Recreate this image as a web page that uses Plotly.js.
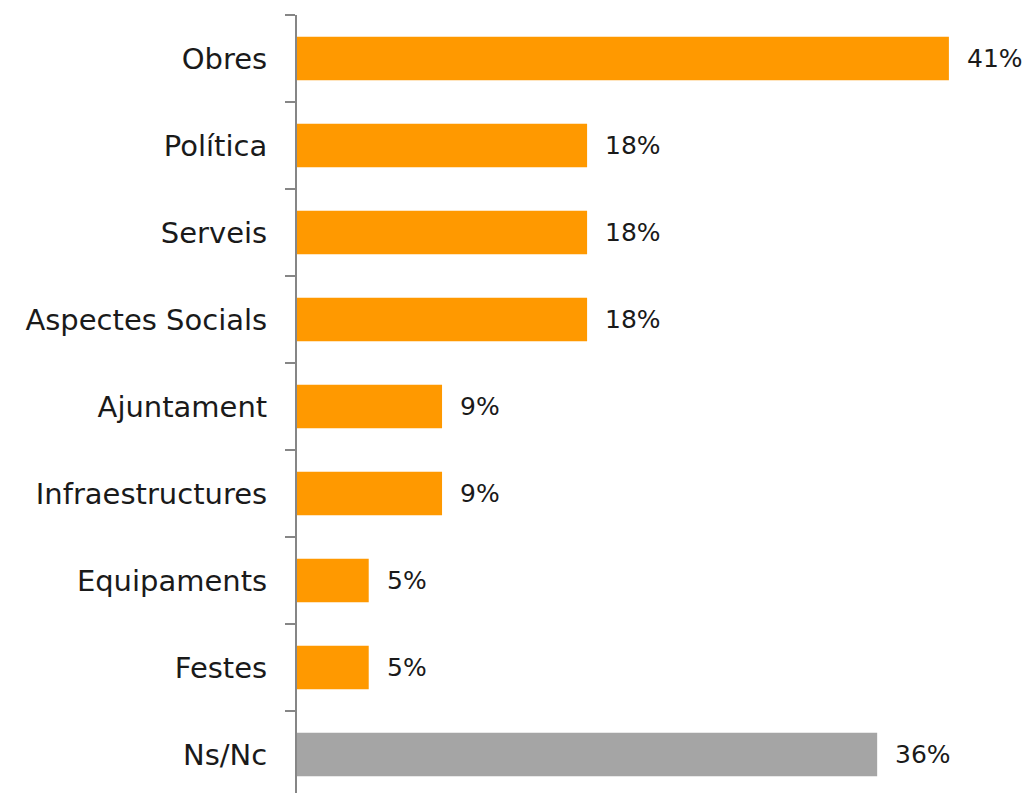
<!DOCTYPE html>
<html>
<head>
<meta charset="utf-8">
<script src="https://cdn.plot.ly/plotly-3.0.1.min.js"></script>
<style>html,body{margin:0;padding:0;overflow:hidden;background:#fff;}</style>
</head>
<body>
<div id="chart" style="width:1027px;height:798px;"></div>
<script>
const categories = ["Obres", "Política", "Serveis", "Aspectes Socials", "Ajuntament", "Infraestructures", "Equipaments", "Festes", "Ns/Nc"];
const values = [40.9, 18.2, 18.2, 18.2, 9.1, 9.1, 4.5, 4.5, 36.4];
const valueLabels = ["41%", "18%", "18%", "18%", "9%", "9%", "5%", "5%", "36%"];
const barColors = ["#FF9900", "#FF9900", "#FF9900", "#FF9900", "#FF9900", "#FF9900", "#FF9900", "#FF9900", "#A5A5A5"];

const fontFamily = "DejaVu Sans, sans-serif";

const trace = {
  type: "bar",
  orientation: "h",
  y: categories,
  x: values,
  marker: { color: barColors },
  hoverinfo: "none"
};

const annotations = categories.map((c, i) => ({
  x: values[i], y: c, xref: "x", yref: "y",
  text: valueLabels[i], showarrow: false,
  xanchor: "left", yanchor: "middle", xshift: 16,
  font: { family: fontFamily, size: 25, color: "#1a1a1a" }
}));

const layout = {
  width: 1027, height: 798,
  margin: { l: 297, r: 0, t: 15, b: 0, pad: 0 },
  paper_bgcolor: "#fff", plot_bgcolor: "#fff",
  showlegend: false,
  bargap: 0.5,
  xaxis: { range: [0, 45.8], visible: false, fixedrange: true },
  yaxis: {
    type: "category", autorange: "reversed",
    showline: true, linecolor: "#868686", linewidth: 2,
    ticks: "outside", tickson: "boundaries", ticklen: 10, tickwidth: 2, tickcolor: "#868686",
    showgrid: false, zeroline: false,
    ticklabelstandoff: 22,
    tickfont: { family: fontFamily, size: 29, color: "#1a1a1a" }
  },
  annotations: annotations
};

Plotly.newPlot("chart", [trace], layout, { displayModeBar: false, staticPlot: true });
</script>
</body>
</html>
